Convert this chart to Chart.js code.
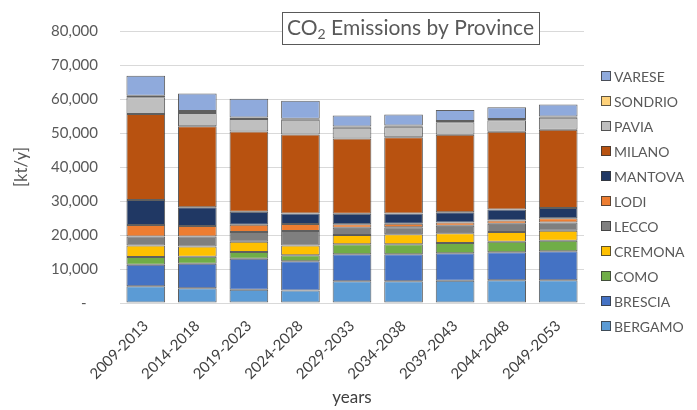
<!DOCTYPE html>
<html>
<head>
<meta charset="utf-8">
<script src="https://cdn.jsdelivr.net/npm/chart.js@4"></script>
<style>
  html, body { margin: 0; padding: 0; background: #ffffff; }
  #wrap { width: 697px; height: 410px; position: relative; }
</style>
</head>
<body>
<div id="wrap"><canvas id="c" width="697" height="410"></canvas></div>
<script>
// Five-year periods
const periods = ['2009-2013', '2014-2018', '2019-2023', '2024-2028', '2029-2033',
                 '2034-2038', '2039-2043', '2044-2048', '2049-2053'];

// Emissions per province, kt/y
const bergamo = [4900, 4330, 3880, 3680, 6430, 6430, 6520, 6710, 6710];
const brescia = [6350, 7200, 9150, 8590, 7930, 7930, 8130, 8220, 8500];
const como    = [2250, 2070, 1980, 1810, 2920, 2920, 3000, 3120, 3120];
const cremona = [3400, 3030, 3040, 2830, 2740, 2920, 2830, 2830, 2920];
const lecco   = [2650, 2920, 2830, 4250, 2080, 2090, 2270, 2440, 2460];
const lodi    = [3400, 3080, 2150, 2070, 1040, 1030, 960, 960, 1220];
const mantova = [7350, 5500, 3800, 3120, 3120, 3030, 3000, 3200, 3030];
const milano  = [25300, 23880, 23590, 23220, 22100, 22380, 22780, 22860, 23030];
const pavia   = [4900, 3880, 3690, 4330, 3200, 3110, 3670, 3400, 3490];
const sondrio = [450, 570, 480, 290, 370, 370, 380, 370, 390];
const varese  = [5900, 5180, 5470, 5300, 3230, 3230, 3200, 3480, 3490];

const provinces = ['BERGAMO', 'BRESCIA', 'COMO', 'CREMONA', 'LECCO', 'LODI',
                   'MANTOVA', 'MILANO', 'PAVIA', 'SONDRIO', 'VARESE'];
const seriesValues = [bergamo, brescia, como, cremona, lecco, lodi,
                      mantova, milano, pavia, sondrio, varese];
const colors = ['#5B9BD5', '#4472C4', '#70AD47', '#FFC000', '#7F7F7F', '#ED7D31',
                '#203864', '#B85210', '#BFBFBF', '#FFD27A', '#8FAADC'];

const yTicks = [0, 10000, 20000, 30000, 40000, 50000, 60000, 70000, 80000];

const FONT = 'Lato, "Open Sans", sans-serif';
const TEXT = '#595959';
const EDGE = 'rgba(55,55,55,0.8)';

// Title box and right-hand legend drawn on the canvas
const decorations = {
  id: 'decorations',
  afterDraw(chart) {
    const ctx = chart.ctx;
    ctx.save();
    // title with subscript 2
    const big = '21px ' + FONT, small = '14px ' + FONT;
    ctx.font = big;
    const w1 = ctx.measureText('CO').width;
    const w3 = ctx.measureText(' Emissions by Province').width;
    ctx.font = small;
    const w2 = ctx.measureText('2').width;
    const total = w1 + w2 + w3;
    const cx = 410.5, cy = 28;
    const bx = Math.round(cx - total / 2 - 5) + 0.5, by = 12.5;
    const bw = Math.round(total + 10), bh = 32;
    ctx.fillStyle = '#ffffff';
    ctx.fillRect(bx, by, bw, bh);
    ctx.strokeStyle = TEXT;
    ctx.lineWidth = 1;
    ctx.strokeRect(bx, by, bw, bh);
    ctx.fillStyle = TEXT;
    ctx.textBaseline = 'middle';
    ctx.textAlign = 'left';
    let x = cx - total / 2;
    ctx.font = big;
    ctx.fillText('CO', x, cy);
    x += w1;
    ctx.font = small;
    ctx.fillText('2', x, cy + 6);
    x += w2;
    ctx.font = big;
    ctx.fillText(' Emissions by Province', x, cy);

    // legend, top entry = last stacked series
    ctx.font = '14px ' + FONT;
    for (let i = 0; i < provinces.length; i++) {
      const k = provinces.length - 1 - i;
      const yy = 76 + i * 25;
      ctx.fillStyle = colors[k];
      ctx.fillRect(601, yy - 5, 10, 10);
      ctx.strokeStyle = EDGE;
      ctx.strokeRect(601.5, yy - 4.5, 9, 9);
      ctx.fillStyle = TEXT;
      ctx.fillText(provinces[k], 614, yy + 1);
    }
    ctx.restore();
  }
};

const datasets = provinces.map((name, i) => ({
  label: name,
  data: seriesValues[i],
  backgroundColor: colors[i],
  borderColor: EDGE,
  borderWidth: 1,
  borderSkipped: false
}));

new Chart(document.getElementById('c'), {
  type: 'bar',
  data: { labels: periods, datasets },
  plugins: [decorations],
  options: {
    responsive: false,
    animation: false,
    layout: { padding: { top: 20, right: 113, bottom: 0, left: 0 } },
    plugins: {
      legend: { display: false },
      tooltip: { enabled: false }
    },
    datasets: { bar: { categoryPercentage: 1, barPercentage: 0.75 } },
    scales: {
      x: {
        stacked: true,
        grid: { display: false, drawTicks: false },
        border: { display: true, color: '#d9d9d9' },
        ticks: {
          autoSkip: false, minRotation: 45, maxRotation: 45,
          padding: 14, color: '#404040', font: { family: FONT, size: 15 }
        },
        title: {
          display: true, text: 'years', color: '#404040',
          font: { family: FONT, size: 17 }, padding: { top: 0, bottom: 2 }
        },
        afterFit(scale) { scale.height = 107; }
      },
      y: {
        stacked: true,
        min: 0, max: 80000,
        afterBuildTicks(scale) { scale.ticks = yTicks.map(v => ({ value: v })); },
        grid: { color: '#d9d9d9', drawTicks: false },
        border: { display: false },
        ticks: {
          padding: 22, color: TEXT, font: { family: FONT, size: 15 },
          callback: v => v === 0 ? '-   ' : v.toLocaleString('en-US')
        },
        title: {
          display: true, text: '[kt/y]', color: TEXT,
          font: { family: FONT, size: 16.5 }, padding: { top: 12, bottom: 0 }
        },
        afterFit(scale) { scale.width = 120; }
      }
    }
  }
});
</script>
</body>
</html>
